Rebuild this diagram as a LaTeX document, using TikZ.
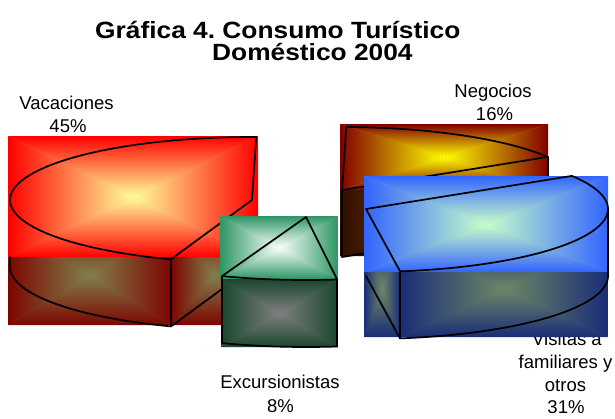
\documentclass[tikz,border=0pt]{standalone}
\usepackage{fontspec}
\setmainfont{Liberation Sans}
\usepackage{graphicx}
\frenchspacing
\definecolor{redOut}{RGB}{255,0,0}
\definecolor{redIn}{RGB}{255,255,155}
\definecolor{redLoOut}{RGB}{125,5,0}
\definecolor{redLoIn}{RGB}{128,128,76}
\definecolor{grnOut}{RGB}{45,150,100}
\definecolor{grnIn}{RGB}{250,255,250}
\definecolor{grnLoOut}{RGB}{25,70,45}
\definecolor{grnLoIn}{RGB}{128,128,128}
\definecolor{yelOut}{RGB}{128,0,0}
\definecolor{yelIn}{RGB}{255,255,0}
\definecolor{yelLoOut}{RGB}{50,12,0}
\definecolor{yelLoIn}{RGB}{125,85,0}
\definecolor{bluOut}{RGB}{50,100,255}
\definecolor{bluIn}{RGB}{200,255,200}
\definecolor{bluLoOut}{RGB}{25,45,120}
\definecolor{bluLoIn}{RGB}{110,135,100}
\newcommand{\rgrad}[6]{%
  \pgfmathsetmacro\rgcx{(#1+#3)/2}%
  \pgfmathsetmacro\rgcy{(#2+#4)/2}%
  \fill[#5!45!#6] (#1,#2) rectangle (#3,#4);
  \shade[top color=#5,middle color=#5!42!#6,bottom color=#6] (#1,#2) -- (#3,#2) -- (\rgcx,\rgcy) -- cycle;
  \shade[top color=#6,middle color=#5!42!#6,bottom color=#5] (#1,#4) -- (#3,#4) -- (\rgcx,\rgcy) -- cycle;
  \shade[left color=#5,middle color=#5!42!#6,right color=#6] (#1,#2) -- (#1,#4) -- (\rgcx,\rgcy) -- cycle;
  \shade[left color=#6,middle color=#5!42!#6,right color=#5] (#3,#2) -- (#3,#4) -- (\rgcx,\rgcy) -- cycle;
}
\tikzset{
  edge/.style={draw=black, line width=1.7pt, line join=round, line cap=round},
  lbl/.style={anchor=base, inner sep=0pt, font=\fontsize{18.5}{22}\selectfont, text=black},
  ttl/.style={anchor=base west, inner sep=0pt, font=\fontsize{23.5}{28}\selectfont\bfseries, text=black}
}
\begin{document}
\begin{tikzpicture}[x=1pt,y=-1pt]
\useasboundingbox (0,0) rectangle (615,418);
\fill[white] (0,0) rectangle (615,418);

% title
\node[ttl] (t1) at (95,38.5) {\scalebox{1.12}[1]{Gráfica 4.\ Consumo Turístico}};
\node[ttl] (t2) at (212,60) {\scalebox{1.12}[1]{Doméstico 2004}};

% ---------- Vacaciones (red) ----------
\rgrad{8}{136}{258}{257}{redOut}{redIn}
\begin{scope}
  \clip (8,257) rectangle (258,325);
  \rgrad{8}{225}{171}{325}{redLoOut}{redLoIn}
  \rgrad{171}{225}{258}{325}{redLoOut}{redLoIn}
\end{scope}
\draw[edge] (252,200) -- plot[domain=109.6:271, samples=90, variable=\t] ({252+242*cos(\t)},{200+63*sin(\t)}) -- cycle;
\draw[edge] (171,259.4) -- (171,326.4);
\draw[edge] plot[domain=109.6:180, samples=60, variable=\t] ({252+242*cos(\t)},{267+63*sin(\t)}) -- (10,257);
\draw[edge] (171,326.4) -- (252,267);

% ---------- Negocios (yellow) ----------
\rgrad{340}{124}{548}{190}{yelOut}{yelIn}
\begin{scope}
  \clip (340,190) rectangle (548,256);
  \rgrad{340}{160}{548}{256}{yelLoOut}{yelLoIn}
\end{scope}
\draw[edge] (342,190) -- plot[domain=-89:-31.7, samples=40, variable=\t] ({342+242*cos(\t)},{190+63*sin(\t)}) -- cycle;
\draw[edge] (342,190) -- (342,257) -- (548,224) -- (548,157);

% ---------- Excursionistas (green) ----------
\rgrad{220}{216}{338}{279}{grnOut}{grnIn}
\rgrad{221}{279}{338}{347}{grnLoOut}{grnLoIn}
\draw[edge] (306,217) -- plot[domain=82.6:110.3, samples=20, variable=\t] ({306+242*cos(\t)},{217+63*sin(\t)}) -- cycle;
\draw[edge] (337.2,279.5) -- (337.2,346.5);
\draw[edge] (222,276.1) -- (222,343.1);
\draw[edge] plot[domain=82.6:110.3, samples=20, variable=\t] ({306+242*cos(\t)},{284+63*sin(\t)});

% ---------- labels ----------
\node[lbl] (vac1) at (66.5,109) {Vacaciones};
\node[lbl] (vac2) at (68,132) {45\%};
\node[lbl] (neg1) at (493,97) {Negocios};
\node[lbl] (neg2) at (494.5,120) {16\%};
\node[lbl] (exc1) at (280,388) {Excursionistas};
\node[lbl] (exc2) at (280.5,412) {8\%};
\node[lbl] (vis1) at (567,345) {Visitas a};
\node[lbl] (vis2) at (565.5,368.5) {familiares y};
\node[lbl] (vis3) at (565.5,391.5) {otros};
\node[lbl] (vis4) at (566,413) {31\%};

% ---------- Visitas (blue) ----------
\rgrad{364}{176}{608}{272}{bluOut}{bluIn}
\begin{scope}
  \clip (364,272) rectangle (608,337);
  \rgrad{364}{240}{400}{337}{bluLoOut}{bluLoIn}
  \rgrad{400}{240}{608}{337}{bluLoOut}{bluLoIn}
\end{scope}
\draw[edge] (366,209) -- plot[domain=-31.7:81.9, samples=70, variable=\t] ({366+242*cos(\t)},{209+63*sin(\t)}) -- cycle;
\draw[edge] (400,271.4) -- (400,338.4);
\draw[edge] plot[domain=0:81.9, samples=50, variable=\t] ({366+242*cos(\t)},{276+63*sin(\t)});
\draw[edge] (608,209) -- (608,276);
\draw[edge] (366,276) -- (400,338.4);
\end{tikzpicture}
\end{document}
